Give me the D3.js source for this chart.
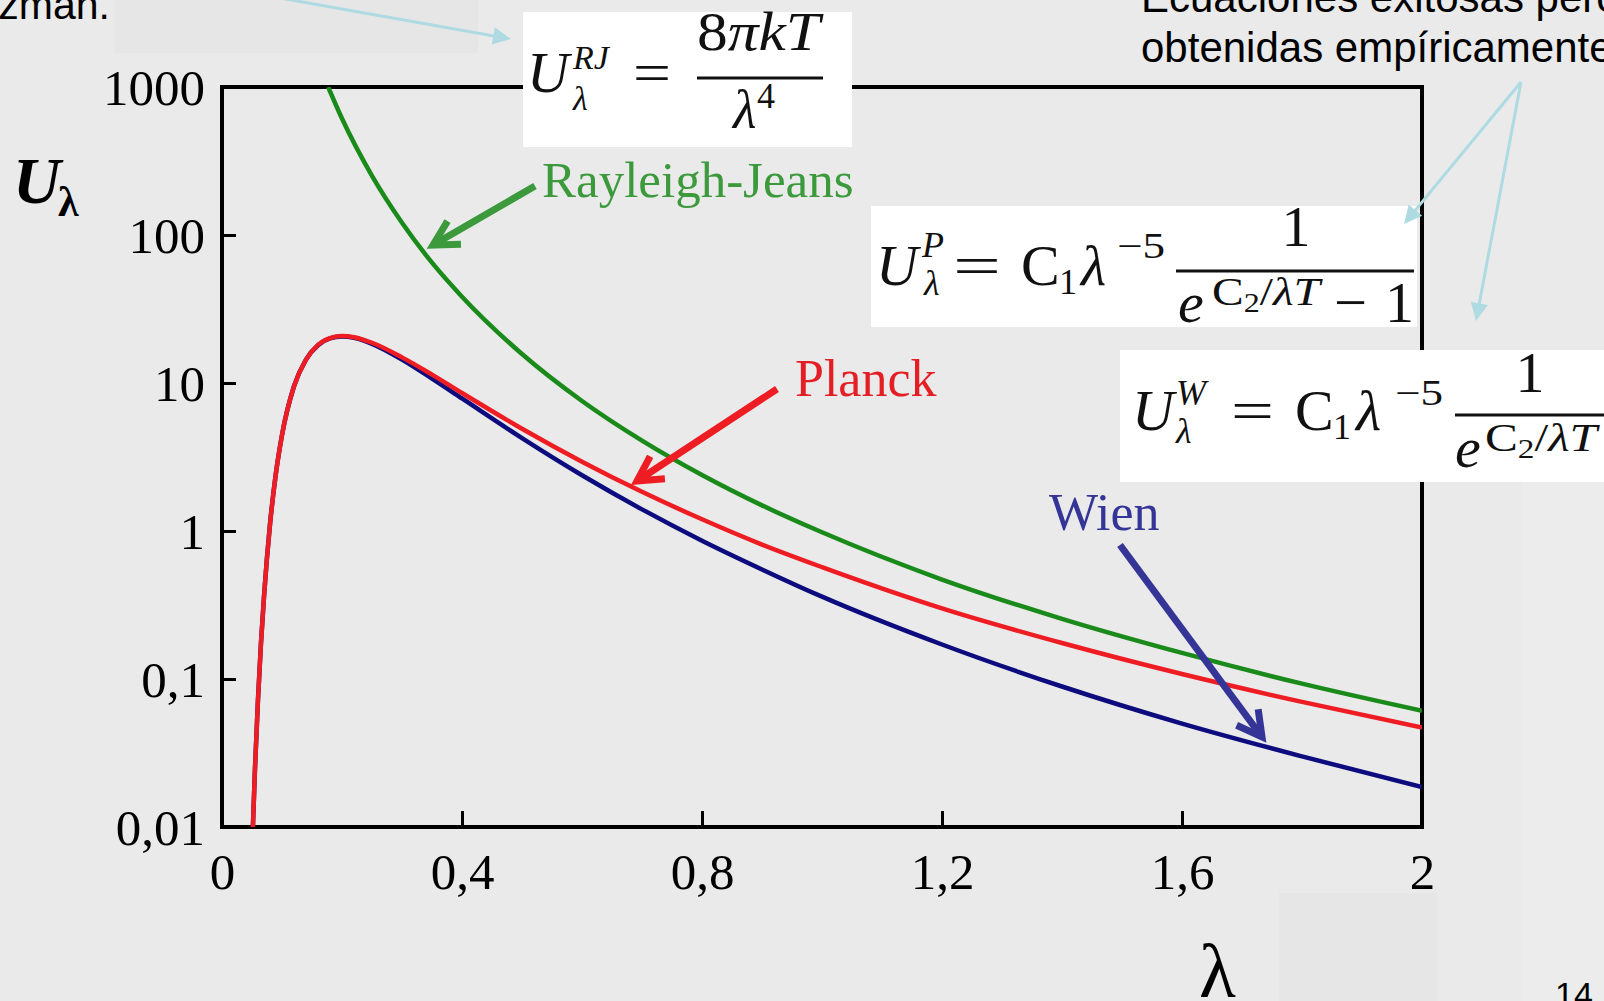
<!DOCTYPE html>
<html>
<head>
<meta charset="utf-8">
<script src="https://cdn.jsdelivr.net/npm/d3@7"></script>
<style>
  body { margin: 0; background: #eaeaea; overflow: hidden; }
  svg { display: block; }
</style>
</head>
<body>
<script>
// values
const lambdaRJ = [0.177, 0.2, 0.25, 0.3, 0.35, 0.4, 0.5, 0.6, 0.7, 0.8, 0.9, 1.0, 1.2, 1.4, 1.6, 1.8, 2.0];
const rayleighJeans = [1000, 612, 251, 121, 65, 38.3, 15.7, 7.56, 4.08, 2.39, 1.49, 0.98, 0.47, 0.255, 0.150, 0.093, 0.061];

const lambdaPW = [0.0515, 0.055, 0.06, 0.065, 0.07, 0.08, 0.09, 0.1, 0.12, 0.14, 0.16, 0.18, 0.2, 0.22, 0.25,
  0.3, 0.35, 0.4, 0.5, 0.6, 0.7, 0.8, 0.9, 1.0, 1.2, 1.4, 1.6, 1.8, 2.0];
const planck = [0.01, 0.025, 0.073, 0.176, 0.36, 1.11, 2.48, 4.45, 9.5, 14.4, 18.1, 20.1, 20.8, 20.4, 18.7,
  14.9, 11.4, 8.56, 4.91, 2.94, 1.84, 1.20, 0.81, 0.57, 0.30, 0.175, 0.108, 0.070, 0.047];
const wien = [0.01, 0.025, 0.073, 0.176, 0.36, 1.11, 2.48, 4.45, 9.5, 14.4, 18.0, 20.0, 20.6, 20.2, 18.4,
  14.4, 10.7, 7.86, 4.24, 2.38, 1.40, 0.86, 0.55, 0.36, 0.171, 0.089, 0.050, 0.030, 0.0186];

const xTicks = [0, 0.4, 0.8, 1.2, 1.6, 2];
const xTickLabels = ['0', '0,4', '0,8', '1,2', '1,6', '2'];
const yTicks = [0.01, 0.1, 1, 10, 100, 1000];
const yTickLabels = ['0,01', '0,1', '1', '10', '100', '1000'];

const serif = '"Liberation Serif", "Times New Roman", serif';
const sans = '"Liberation Sans", Arial, sans-serif';

const svg = d3.select('body')
  .append('svg')
    .attr('width', 1604)
    .attr('height', 1001);

// slide background patches
svg.append('rect').attr('width', 1604).attr('height', 1001).attr('fill', '#eaeaea');
svg.append('rect').attr('x', 115).attr('y', 0).attr('width', 363).attr('height', 53).attr('fill', '#e6e6e6');
svg.append('rect').attr('x', 1279).attr('y', 893).attr('width', 158).attr('height', 108).attr('fill', '#e6e6e6');
svg.append('rect').attr('x', 1522).attr('y', 482).attr('width', 82).attr('height', 519).attr('fill', '#ececec');

// top texts of the slide
svg.append('text').attr('x', 110).attr('y', 19).attr('text-anchor', 'end')
  .style('font-family', sans).style('font-size', '41px').attr('fill', '#000').text('Boltzman.');
svg.append('text').attr('x', 1141).attr('y', 12)
  .style('font-family', sans).style('font-size', '42px').attr('fill', '#000').text('Ecuaciones exitosas pero');
svg.append('text').attr('x', 1141).attr('y', 62)
  .style('font-family', sans).style('font-size', '42px').attr('fill', '#000').text('obtenidas empíricamente');
svg.append('text').attr('x', 1555).attr('y', 1006)
  .style('font-family', sans).style('font-size', '34px').attr('fill', '#000').text('14');

// scales
const x = d3.scaleLinear().domain([0, 2]).range([222, 1422]);
const y = d3.scaleLog().domain([0.01, 1000]).range([827, 87]);

// frame
svg.append('rect')
  .attr('x', x(0)).attr('y', y(1000))
  .attr('width', x(2) - x(0)).attr('height', y(0.01) - y(1000))
  .attr('fill', 'none').attr('stroke', '#000').attr('stroke-width', 4);

// axes with inward ticks
const xAxis = d3.axisBottom(x)
  .tickValues(xTicks)
  .tickSizeInner(-16).tickSizeOuter(0)
  .tickFormat((d, i) => xTickLabels[i]);
const yAxis = d3.axisLeft(y)
  .tickValues(yTicks)
  .tickSizeInner(-14).tickSizeOuter(0)
  .tickPadding(17)
  .tickFormat((d, i) => yTickLabels[i]);

const xAxisGroup = svg.append('g').attr('transform', `translate(0, ${y(0.01)})`).call(xAxis);
const yAxisGroup = svg.append('g').attr('transform', `translate(${x(0)}, 0)`).call(yAxis);

[xAxisGroup, yAxisGroup].forEach(g => {
  g.select('.domain').remove();
  g.selectAll('line').attr('stroke', '#000').attr('stroke-width', 3);
  g.selectAll('text').attr('fill', '#000')
    .style('font-family', serif).style('font-size', '51px');
});
xAxisGroup.selectAll('text').attr('y', 62).attr('dy', 0);
yAxisGroup.selectAll('text').attr('dy', '0.34em');

// curves
svg.append('clipPath').attr('id', 'plot-clip')
  .append('rect')
    .attr('x', x(0)).attr('y', y(1000))
    .attr('width', x(2) - x(0)).attr('height', y(0.01) - y(1000));

const line = d3.line()
  .x(d => x(d[0]))
  .y(d => y(d[1]))
  .curve(d3.curveMonotoneX);

const curves = [
  { lam: lambdaPW, val: wien, color: '#0c0c7e' },
  { lam: lambdaPW, val: planck, color: '#ee1c23' },
  { lam: lambdaRJ, val: rayleighJeans, color: '#1a8a1a' }
];

svg.append('g').attr('clip-path', 'url(#plot-clip)')
  .selectAll('path')
  .data(curves)
  .enter()
  .append('path')
    .attr('d', c => line(c.lam.map((l, i) => [l, c.val[i]])))
    .attr('fill', 'none')
    .attr('stroke', c => c.color)
    .attr('stroke-width', 4.5)
    .attr('stroke-linejoin', 'round');

// arrows
const arrow = (x1, y1, x2, y2, color, w, head, filled) => {
  const a = Math.atan2(y2 - y1, x2 - x1);
  const spread = filled ? 0.45 : 0.5;
  const p1 = [x2 - head * Math.cos(a - spread), y2 - head * Math.sin(a - spread)];
  const p2 = [x2 - head * Math.cos(a + spread), y2 - head * Math.sin(a + spread)];
  if (filled) {
    const ex = x2 - head * 0.8 * Math.cos(a), ey = y2 - head * 0.8 * Math.sin(a);
    svg.append('line').attr('x1', x1).attr('y1', y1).attr('x2', ex).attr('y2', ey)
      .attr('stroke', color).attr('stroke-width', w);
    svg.append('path').attr('d', `M${x2},${y2}L${p1}L${p2}Z`).attr('fill', color);
  } else {
    svg.append('line').attr('x1', x1).attr('y1', y1).attr('x2', x2).attr('y2', y2)
      .attr('stroke', color).attr('stroke-width', w).attr('stroke-linecap', 'butt');
    svg.append('path').attr('d', `M${p1}L${x2},${y2}L${p2}`)
      .attr('fill', 'none').attr('stroke', color).attr('stroke-width', w)
      .attr('stroke-linejoin', 'miter');
  }
};

// formula boxes
svg.append('rect').attr('x', 523).attr('y', 12).attr('width', 329).attr('height', 135).attr('fill', '#fff');
svg.append('rect').attr('x', 871).attr('y', 206).attr('width', 546).attr('height', 121).attr('fill', '#fff');
svg.append('rect').attr('x', 1120).attr('y', 350).attr('width', 484).attr('height', 132).attr('fill', '#fff');

// light blue pointer arrows
arrow(190, -18, 511, 39, '#aedbe1', 3, 20, true);
arrow(1521, 82, 1404, 224, '#aedbe1', 3, 20, true);
arrow(1521, 82, 1476, 321, '#aedbe1', 3, 20, true);

// curve labels
svg.append('text').attr('x', 542).attr('y', 197)
  .style('font-family', serif).style('font-size', '51px').attr('fill', '#3c9a3c').text('Rayleigh-Jeans');
svg.append('text').attr('x', 795).attr('y', 396)
  .style('font-family', serif).style('font-size', '52px').attr('fill', '#e31e24').text('Planck');
svg.append('text').attr('x', 1049).attr('y', 530)
  .style('font-family', serif).style('font-size', '52px').attr('fill', '#353597').text('Wien');

arrow(535, 186, 433, 245, '#3c9a3c', 7, 28, false);
arrow(777, 389, 637, 481, '#ee1c23', 7, 28, false);
arrow(1120, 545, 1262, 737, '#353597', 7, 28, false);

// axis titles
svg.append('text').attr('x', 13).attr('y', 203)
  .style('font-family', serif).style('font-size', '66px')
  .style('font-weight', 'bold').style('font-style', 'italic').attr('fill', '#000').text('U');
svg.append('text').attr('x', 58).attr('y', 216)
  .style('font-family', serif).style('font-size', '42px')
  .style('font-weight', 'bold').attr('fill', '#000').text('λ');
svg.append('text').attr('x', 1199).attr('y', 997)
  .style('font-family', serif).style('font-size', '76px').attr('fill', '#000').text('λ');

// formula text helper
const put = (t, px, py, size, italic, anchor, len) => {
  const el = svg.append('text').attr('x', px).attr('y', py)
    .attr('text-anchor', anchor || 'start')
    .style('font-family', serif).style('font-size', size + 'px')
    .style('font-style', italic ? 'italic' : 'normal')
    .attr('fill', '#111').text(t);
  if (len) el.attr('textLength', len).attr('lengthAdjust', 'spacingAndGlyphs');
  return el;
};
const exponent = (px, py, big, small, len) => {
  const t = svg.append('text').attr('x', px).attr('y', py)
    .attr('textLength', len).attr('lengthAdjust', 'spacingAndGlyphs')
    .style('font-family', serif).style('font-size', big + 'px').attr('fill', '#111');
  t.append('tspan').text('C');
  t.append('tspan').style('font-size', small + 'px').attr('dy', 7).text('2');
  t.append('tspan').attr('dy', -7).text('/');
  t.append('tspan').style('font-style', 'italic').text('λT');
};
const bar = (x1, x2, yy) => {
  svg.append('line').attr('x1', x1).attr('x2', x2).attr('y1', yy).attr('y2', yy)
    .attr('stroke', '#111').attr('stroke-width', 3);
};

// Rayleigh-Jeans formula
put('U', 527, 92, 58, true);
put('RJ', 573, 69, 34, true);
put('λ', 573, 110, 34, true);
put('=', 633, 92, 58, false, 'start', 38);
const num = svg.append('text').attr('x', 697).attr('y', 50)
  .attr('textLength', 123).attr('lengthAdjust', 'spacingAndGlyphs')
  .style('font-family', serif).style('font-size', '54px').attr('fill', '#111');
num.append('tspan').text('8');
num.append('tspan').style('font-style', 'italic').text('πkT');
bar(697, 823, 78);
put('λ', 733, 128, 54, true);
put('4', 757, 108, 36, false);

// Planck formula
put('U', 876, 285, 58, true);
put('P', 922, 257, 36, true);
put('λ', 924, 295, 36, true);
put('=', 953, 285, 58, false, 'start', 48);
put('C', 1021, 285, 58, false);
put('1', 1059, 294, 36, false);
put('λ', 1081, 285, 58, true);
put('−5', 1117, 258, 36, false, 'start', 48);
bar(1176, 1414, 271);
put('1', 1296, 246, 58, false, 'middle');
put('e', 1178, 322, 58, true);
exponent(1212, 305, 40, 27, 108);
put('−', 1334, 322, 58, false, 'start', 33);
put('1', 1385, 322, 58, false);

// Wien formula
put('U', 1132, 430, 58, true);
put('W', 1176, 405, 36, true);
put('λ', 1176, 443, 36, true);
put('=', 1231, 430, 58, false, 'start', 43);
put('C', 1295, 430, 58, false);
put('1', 1333, 439, 36, false);
put('λ', 1356, 430, 58, true);
put('−5', 1395, 405, 36, false, 'start', 48);
bar(1455, 1604, 415);
put('1', 1530, 392, 58, false, 'middle');
put('e', 1455, 467, 58, true);
exponent(1485, 451, 40, 27, 112);
</script>
</body>
</html>
